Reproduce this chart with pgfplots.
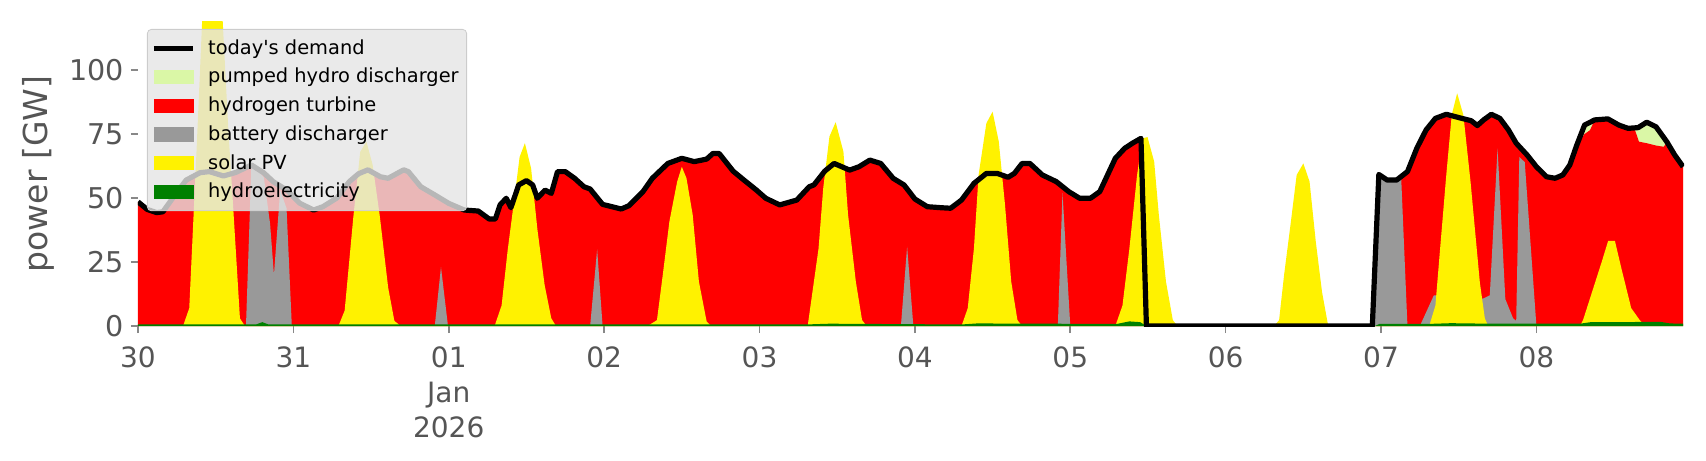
\documentclass[border=0pt]{standalone}
\usepackage{fontspec}
\setmainfont{DejaVu Sans}
\usepackage{pgfplots}
\pgfplotsset{compat=1.18}
\definecolor{pumped}{HTML}{DAF7A6}
\definecolor{battery}{HTML}{999999}
\definecolor{hydro}{HTML}{008000}
\definecolor{labgray}{HTML}{555555}
\definecolor{leggray}{HTML}{E5E5E5}
\definecolor{legborder}{HTML}{CCCCCC}
\begin{document}
\begin{tikzpicture}
\begin{axis}[
  name=ax,
  scale only axis, width=773pt, height=152pt,
  xmin=0, xmax=9.95, ymin=0, ymax=118.75,
  axis x line*=bottom, axis y line*=left,
  axis line style={draw=none},
  tick align=outside,
  major tick length=3.5pt,
  tick style={color=labgray!70, line width=0.8pt},
  xtick={0,1,2,3,4,5,6,7,8,9},
  xticklabels={30,31,{01\\Jan\\2026},02,03,04,05,06,07,08},
  xticklabel style={align=center, font=\fontsize{14}{17.5}\selectfont, text=labgray, yshift=-3.5pt},
  ytick={0,25,50,75,100},
  yticklabel style={font=\fontsize{14.3}{16.5}\selectfont, text=labgray},
  /pgf/number format/assume math mode=true,
  every axis y label/.style={at={(axis description cs:-0.0647,0.5)}, rotate=90, anchor=center},
  ylabel={power [GW]},
  ylabel style={font=\fontsize{16.5}{19}\selectfont, text=labgray},
  legend style={
    at={(axis description cs:0,1)}, anchor=north west,
    xshift=4.5pt, yshift=-3.5pt,
    fill=leggray, fill opacity=0.8, draw=legborder, draw opacity=1, text opacity=1,
    rounded corners=2pt,
    font=\fontsize{9.7}{11.5}\selectfont,
    inner xsep=2pt, inner ysep=3pt,
    row sep=1.5pt, column sep=4.3pt,
  },
  legend cell align=left,
]
% pumped hydro (behind red)
\addplot[fill=pumped, draw=none, forget plot] coordinates {
(9.215,0) (9.215,62.9) (9.26,70.7) (9.31,78.5) (9.375,80.5) (9.46,80.9) (9.53,78.5) (9.59,77.2) (9.655,77.5) (9.71,79.6) (9.77,77.8) (9.84,71.9) (9.89,66.8) (9.944,62.2) (9.944,0)
} \closedcycle;
% hydrogen turbine
\addplot[fill=red, draw=none, forget plot] coordinates {
(0.00,48.5) (0.06,45.5) (0.12,44.3) (0.16,44.6) (0.23,50.5) (0.31,57) (0.40,59.9) (0.46,60.3) (0.55,58.6) (0.63,60) (0.73,62.9) (0.81,59.8) (0.87,56.4) (0.96,53) (1.04,48) (1.13,45.3) (1.19,46.6) (1.28,50) (1.36,56.4) (1.42,59.5) (1.48,61) (1.56,58.3) (1.61,57.7) (1.71,61) (1.74,60.3) (1.82,54.4) (1.91,51.2) (2.00,47.9) (2.10,45.3) (2.19,44.9) (2.26,41.8) (2.30,41.8) (2.33,47.3) (2.37,49.9) (2.40,46.2) (2.45,55.1) (2.50,56.8) (2.54,55.1) (2.57,49.9) (2.62,53.1) (2.66,51.8) (2.70,60.3) (2.75,60.3) (2.81,57.7) (2.87,54.4) (2.91,53.5) (2.99,47.5) (3.11,45.7) (3.16,47) (3.25,52.5) (3.31,57.7) (3.41,63.5) (3.50,65.5) (3.58,64.2) (3.66,65.2) (3.70,67.4) (3.74,67.4) (3.83,60.5) (3.90,57) (3.98,53.1) (4.04,49.9) (4.13,47.3) (4.24,49.2) (4.32,54.4) (4.35,55.1) (4.42,60.5) (4.48,63.5) (4.58,60.9) (4.64,62.2) (4.71,64.8) (4.78,63.5) (4.86,57.7) (4.93,55.1) (5.00,49.6) (5.08,46.6) (5.17,46.2) (5.23,46) (5.30,49.2) (5.38,55.7) (5.46,59.6) (5.53,59.6) (5.60,58.1) (5.64,59.6) (5.69,63.5) (5.74,63.5) (5.82,59) (5.91,56.4) (5.99,52.5) (6.06,49.9) (6.13,49.9) (6.19,52.5) (6.24,59) (6.29,65.5) (6.35,69.4) (6.40,71.4) (6.455,73.3) (6.49,0) (7.944,0) (7.986,59.2) (8.04,57) (8.10,57) (8.17,60.3) (8.23,69.4) (8.29,76.6) (8.35,81.1) (8.42,82.7) (8.52,81.1) (8.58,80.2) (8.62,78.3) (8.66,80.5) (8.71,82.7) (8.765,81.1) (8.82,76.6) (8.87,71.4) (8.94,66.8) (9.00,62.2) (9.065,58.3) (9.12,57.7) (9.17,59) (9.215,62.9) (9.26,70.7) (9.31,75) (9.345,76.5) (9.375,80.5) (9.46,80.9) (9.53,78.5) (9.59,77.2) (9.63,77.3) (9.66,72) (9.71,71.4) (9.77,70.5) (9.82,70) (9.84,71.9) (9.89,66.8) (9.944,62.2)
} \closedcycle;
% battery discharger
\addplot[fill=battery, draw=none, forget plot] coordinates {
(0.695,0) (0.73,62.9) (0.77,61) (0.81,58) (0.85,40) (0.875,20) (0.915,53) (0.956,46) (0.99,0)
(1.91,0) (1.95,23) (1.995,0)
(2.91,0) (2.955,30) (2.99,0)
(4.91,0) (4.95,31) (4.99,0)
(5.92,0) (5.95,52) (6.00,0)
(7.944,0) (7.986,59.2) (8.04,57) (8.10,57) (8.13,57.5) (8.17,0)
(8.25,0) (8.34,12) (8.45,12) (8.60,10) (8.66,10.8) (8.70,12) (8.75,69.4) (8.80,10.5) (8.85,3) (8.87,2) (8.89,66) (8.925,64) (9.0,0)
} \closedcycle;
% solar PV
\addplot[fill=yellow, draw=none, forget plot] coordinates {
(0.29,0) (0.33,7) (0.375,66) (0.417,125) (0.458,130) (0.50,130) (0.54,125) (0.583,75) (0.61,49) (0.656,3) (0.688,0)
(1.29,0) (1.33,6) (1.385,42) (1.43,68) (1.47,72) (1.51,63) (1.556,43) (1.61,15) (1.65,2) (1.69,0)
(2.295,0) (2.34,8) (2.38,30) (2.425,51) (2.456,66) (2.49,71.4) (2.53,61.6) (2.57,38) (2.617,16) (2.66,3) (2.69,0)
(3.28,0) (3.34,2.3) (3.38,21.2) (3.42,40.8) (3.47,56.4) (3.50,62.2) (3.53,57.7) (3.57,43.4) (3.61,17.3) (3.66,1.7) (3.69,0)
(4.31,0) (4.38,30.3) (4.41,53.8) (4.45,74) (4.49,79.6) (4.54,68.1) (4.57,43.4) (4.62,17.3) (4.66,2.3) (4.69,0)
(5.30,0) (5.34,6.9) (5.38,30.3) (5.41,59) (5.46,79.2) (5.50,83.7) (5.54,72) (5.58,47.3) (5.62,17.3) (5.66,2.3) (5.69,0)
(6.29,0) (6.336,8) (6.38,30) (6.43,59) (6.465,73.3) (6.497,73.8) (6.54,64.2) (6.57,43.4) (6.616,17.3) (6.66,2.3) (6.69,0)
(7.312,0) (7.344,2.3) (7.376,19.9) (7.42,40.8) (7.457,59) (7.50,63.5) (7.54,56.4) (7.58,33) (7.62,13.4) (7.66,0)
(8.31,0) (8.35,8) (8.38,30) (8.42,59) (8.455,82.4) (8.49,90.9) (8.53,82.4) (8.576,56.4) (8.604,38) (8.636,17) (8.668,3) (8.69,0)
(9.28,0) (9.30,2.3) (9.345,10.8) (9.42,25) (9.462,33.3) (9.505,33.3) (9.547,22.5) (9.61,7) (9.665,2.3) (9.70,0)
} \closedcycle;
% hydroelectricity
\addplot[fill=hydro, draw=none, forget plot] coordinates {
(0,0.6) (0.76,0.6) (0.80,1.5) (0.84,0.6) (4.3,0.6) (4.45,0.9) (5.3,0.6) (5.4,1.0) (6.30,0.8) (6.38,1.8) (6.45,1.5) (6.49,0) (7.96,0) (7.99,0.8) (8.3,0.8) (8.45,1.1) (8.7,0.9) (9.28,0.9) (9.35,1.5) (9.8,1.6) (9.86,1.0) (9.944,0.9) (9.944,0)
} \closedcycle;
% demand
\addplot[black, line width=2.6pt, line join=round, forget plot] coordinates {
(0.00,48.5) (0.06,45.5) (0.12,44.3) (0.16,44.6) (0.23,50.5) (0.31,57) (0.40,59.9) (0.46,60.3) (0.55,58.6) (0.63,60) (0.73,62.9) (0.81,59.8) (0.87,56.4) (0.96,53) (1.04,48) (1.13,45.3) (1.19,46.6) (1.28,50) (1.36,56.4) (1.42,59.5) (1.48,61) (1.56,58.3) (1.61,57.7) (1.71,61) (1.74,60.3) (1.82,54.4) (1.91,51.2) (2.00,47.9) (2.10,45.3) (2.19,44.9) (2.26,41.8) (2.30,41.8) (2.33,47.3) (2.37,49.9) (2.40,46.2) (2.45,55.1) (2.50,56.8) (2.54,55.1) (2.57,49.9) (2.62,53.1) (2.66,51.8) (2.70,60.3) (2.75,60.3) (2.81,57.7) (2.87,54.4) (2.91,53.5) (2.99,47.5) (3.11,45.7) (3.16,47) (3.25,52.5) (3.31,57.7) (3.41,63.5) (3.50,65.5) (3.58,64.2) (3.66,65.2) (3.70,67.4) (3.74,67.4) (3.83,60.5) (3.90,57) (3.98,53.1) (4.04,49.9) (4.13,47.3) (4.24,49.2) (4.32,54.4) (4.35,55.1) (4.42,60.5) (4.48,63.5) (4.58,60.9) (4.64,62.2) (4.71,64.8) (4.78,63.5) (4.86,57.7) (4.93,55.1) (5.00,49.6) (5.08,46.6) (5.17,46.2) (5.23,46) (5.30,49.2) (5.38,55.7) (5.46,59.6) (5.53,59.6) (5.60,58.1) (5.64,59.6) (5.69,63.5) (5.74,63.5) (5.82,59) (5.91,56.4) (5.99,52.5) (6.06,49.9) (6.13,49.9) (6.19,52.5) (6.24,59) (6.29,65.5) (6.35,69.4) (6.40,71.4) (6.455,73.3) (6.49,0) (7.944,0) (7.986,59.2) (8.04,57) (8.10,57) (8.17,60.3) (8.23,69.4) (8.29,76.6) (8.35,81.1) (8.42,82.7) (8.52,81.1) (8.58,80.2) (8.62,78.3) (8.66,80.5) (8.71,82.7) (8.765,81.1) (8.82,76.6) (8.87,71.4) (8.94,66.8) (9.00,62.2) (9.065,58.3) (9.12,57.7) (9.17,59) (9.215,62.9) (9.26,70.7) (9.31,78.5) (9.375,80.5) (9.46,80.9) (9.53,78.5) (9.59,77.2) (9.655,77.5) (9.71,79.6) (9.77,77.8) (9.84,71.9) (9.89,66.8) (9.944,62.2)
};
\addlegendimage{legend image code/.code={\draw[black, line width=2.6pt, draw opacity=1, sharp corners] (0pt,0pt) -- (19.5pt,0pt);}}
\addlegendentry{today\textquotesingle s demand}
\addlegendimage{legend image code/.code={\fill[pumped, fill opacity=1, sharp corners] (0pt,-3.3pt) rectangle (19.5pt,3.3pt);}}
\addlegendentry{pumped hydro discharger}
\addlegendimage{legend image code/.code={\fill[red, fill opacity=1, sharp corners] (0pt,-3.3pt) rectangle (19.5pt,3.3pt);}}
\addlegendentry{hydrogen turbine}
\addlegendimage{legend image code/.code={\fill[battery, fill opacity=1, sharp corners] (0pt,-3.3pt) rectangle (19.5pt,3.3pt);}}
\addlegendentry{battery discharger}
\addlegendimage{legend image code/.code={\fill[yellow, fill opacity=1, sharp corners] (0pt,-3.3pt) rectangle (19.5pt,3.3pt);}}
\addlegendentry{solar PV}
\addlegendimage{legend image code/.code={\fill[hydro, fill opacity=1, sharp corners] (0pt,-3.3pt) rectangle (19.5pt,3.3pt);}}
\addlegendentry{hydroelectricity}
\end{axis}
\pgfresetboundingbox
\path ([xshift=-69pt,yshift=-67pt]ax.south west) rectangle ([xshift=11pt,yshift=11pt]ax.north east);
\end{tikzpicture}
\end{document}
